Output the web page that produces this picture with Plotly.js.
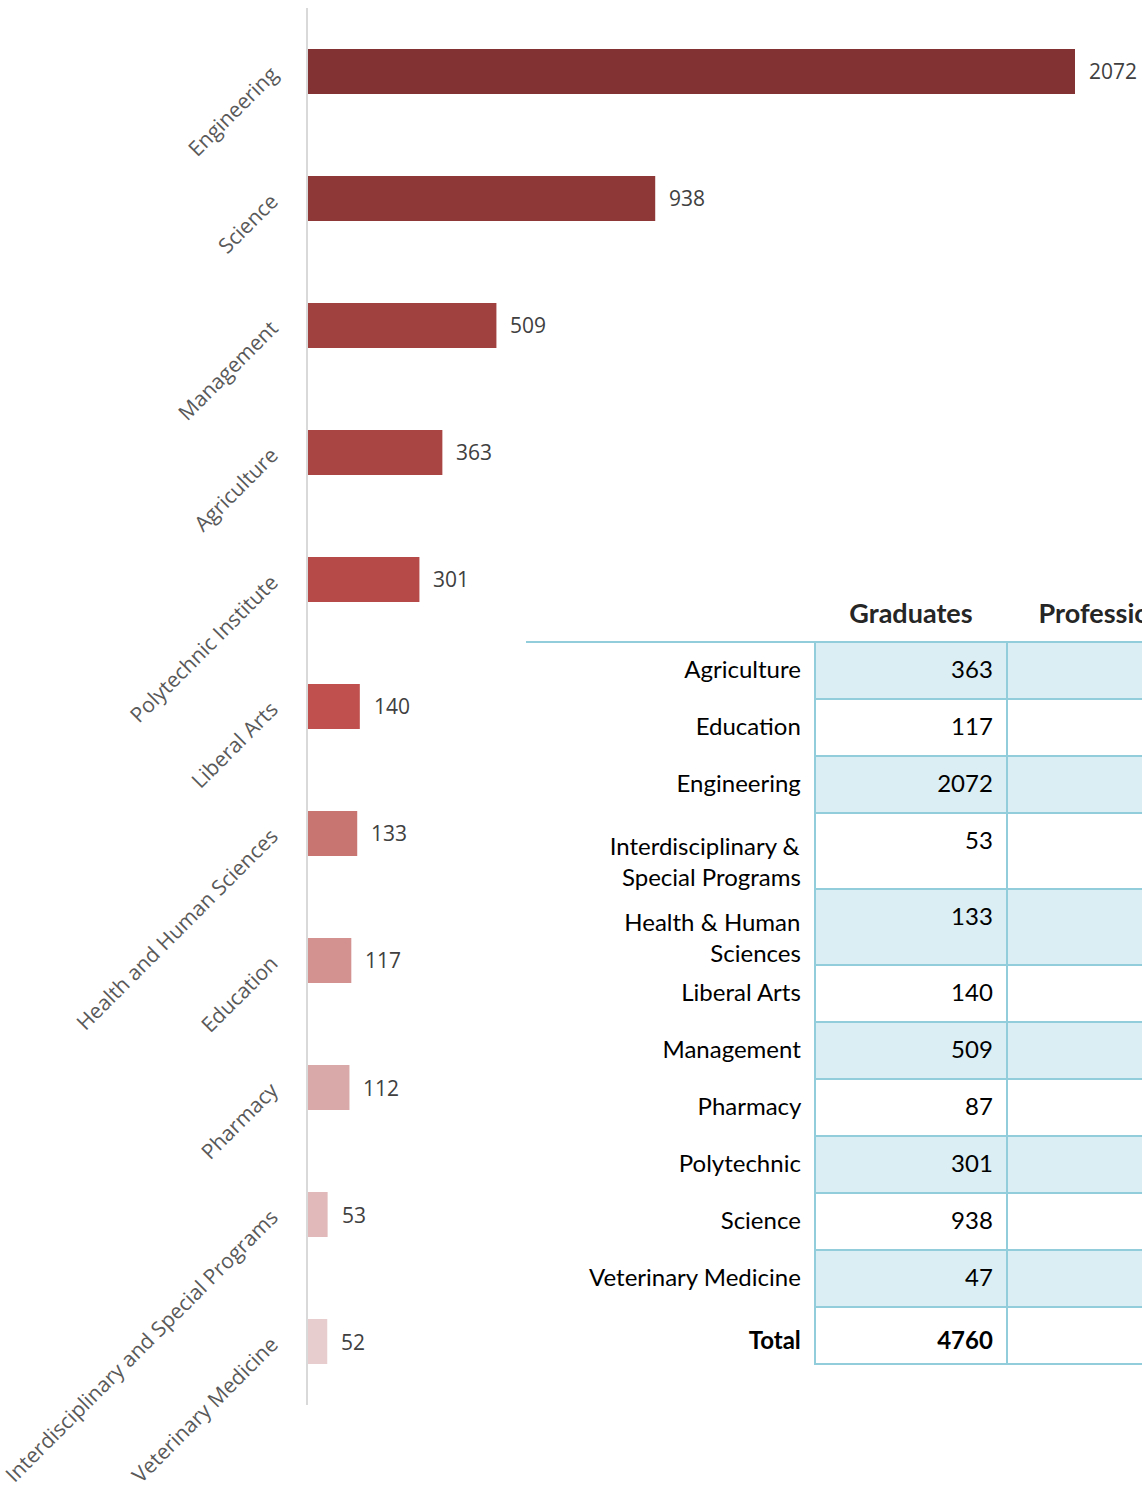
<!DOCTYPE html>
<html><head><meta charset="utf-8">
<script src="https://cdn.plot.ly/plotly-3.0.1.min.js"></script>
<style>html,body{margin:0;padding:0;overflow:hidden;background:#fff;width:1142px;height:1489px}</style>
</head><body><div id="chart" style="width:1240px;height:1489px"></div>
<script>
// ---- chart data ----
const colleges = ['Engineering','Science','Management','Agriculture','Polytechnic Institute','Liberal Arts','Health and Human Sciences','Education','Pharmacy','Interdisciplinary and Special Programs','Veterinary Medicine'];
const chartGraduates = [2072, 938, 509, 363, 301, 140, 133, 117, 112, 53, 52];

// ---- table data ----
const tableHeaders = ['', 'Graduates', 'Professional'];
const tableColleges = ['Agriculture','Education','Engineering','Interdisciplinary &<br>Special Programs','Health & Human<br>Sciences','Liberal Arts','Management','Pharmacy','Polytechnic','Science','Veterinary Medicine'];
const tableGraduates = [363, 117, 2072, 53, 133, 140, 509, 87, 301, 938, 47];
const totalLabel = 'Total';

// ---- styles ----
const barColors = ['#823232','#8E3937','#A0413F','#A94543','#B54A48','#C0504D','#C87572','#D39290','#D9A8A8','#E1B9BA','#E8CDCF'];
const borderColor = '#92CDDC';
const bandColor = '#DAEEF3';
const NB = '\u00a0';
// leading padding (in no-break spaces) that right-justifies the 2nd line of wrapped labels
const secondLinePad = {3: 2, 4: 14};

const W = 1240, H = 1489;
const px = (x) => x / W;
const py = (y) => 1 - y / H;

const barTrace = {
  type: 'bar', orientation: 'h',
  x: chartGraduates, y: colleges,
  marker: {color: barColors, line: {width: 0}},
  xaxis: 'x', yaxis: 'y', hoverinfo: 'none', showlegend: false
};

const annotations = chartGraduates.map((v, i) => ({
  x: v, y: colleges[i], xref: 'x', yref: 'y',
  text: String(v), showarrow: false, xanchor: 'left', xshift: 12,
  font: {family: 'Open Sans', size: 21, color: '#404040'}
}));

const total = tableGraduates.reduce((a, b) => a + b, 0);
const formatLabel = (s, i) => {
  const lines = s.split('<br>');
  if (lines.length === 1) return s.split(' ').join(NB);
  return lines.map((ln, k) => (k > 0 ? NB.repeat(secondLinePad[i] || 0) : '') + ln + (k < lines.length - 1 ? NB : '')).join('<br>');
};
const labelCol = tableColleges.map(formatLabel).concat(['<b>' + totalLabel + '</b>']);
const gradCol = tableGraduates.map(String).concat(['<b>' + total + '</b>']);
const profCol = labelCol.map(() => '');
const nRows = labelCol.length;
const bandFill = labelCol.map((_, i) => (i % 2 === 0 && i < nRows - 1) ? bandColor : 'white');
// blank placeholders with the same line count, so the grid rows get the same heights
const blankOf = (s) => s.split('<br>').map(() => NB).join('<br>');

const rowH = 57, headTop = 591, headH = 51, textShift = 10, headTextLift = 3;
const colW = [289, 192, 210];
const tableX = [px(526), px(526 + 289 + 192 + 210)];
const cellFont = {family: 'Lato', size: 24, color: '#000000'};

// grid layer: fills and borders
const gridTrace = {
  type: 'table', domain: {x: tableX, y: [0, py(headTop)]}, columnwidth: colW,
  header: {
    values: tableHeaders.map(() => ''), height: headH,
    fill: {color: 'white'}, line: {color: 'white', width: 0}
  },
  cells: {
    values: [labelCol.map(blankOf), gradCol.map(blankOf), profCol.map(blankOf)],
    align: 'right', height: rowH,
    fill: {color: [labelCol.map(() => 'white'), bandFill, bandFill]},
    line: {color: ['white', borderColor, borderColor], width: 2},
    font: cellFont
  }
};

// text layer
const textTrace = {
  type: 'table', domain: {x: tableX, y: [0, py(headTop - headTextLift)]}, columnwidth: colW,
  header: {
    values: tableHeaders.map(h => h ? '<b>' + h + '</b>' : ''),
    align: 'center', height: headH + textShift + headTextLift,
    fill: {color: 'rgba(0,0,0,0)'}, line: {color: 'rgba(0,0,0,0)', width: 0},
    font: {family: 'Lato', size: 27, color: '#262626'}
  },
  cells: {
    values: [labelCol, gradCol, profCol],
    align: 'right', height: rowH, suffix: NB,
    fill: {color: 'rgba(0,0,0,0)'},
    line: {color: 'rgba(0,0,0,0)', width: 0},
    font: cellFont
  }
};

const layout = {
  width: W, height: H,
  margin: {l: 0, r: 0, t: 0, b: 0},
  paper_bgcolor: 'white', plot_bgcolor: 'white',
  showlegend: false,
  bargap: 0.646,
  xaxis: {domain: [px(308), px(1143)], range: [0, 2255.7], visible: false, fixedrange: true},
  yaxis: {
    domain: [py(1405), py(8)], autorange: 'reversed', type: 'category',
    showline: true, linecolor: '#D9D9D9', linewidth: 2,
    showgrid: false, zeroline: false,
    ticks: 'outside', ticklen: 30, tickcolor: 'rgba(0,0,0,0)',
    tickangle: -45,
    tickfont: {family: 'Open Sans', size: 21, color: '#595959'}
  },
  annotations: annotations,
  shapes: [{
    type: 'line', xref: 'paper', yref: 'paper',
    x0: tableX[0], x1: tableX[1], y0: py(642), y1: py(642),
    line: {color: borderColor, width: 2}
  }]
};

Plotly.newPlot('chart', [barTrace, gridTrace, textTrace], layout, {staticPlot: true, displayModeBar: false});
</script>
</body></html>
